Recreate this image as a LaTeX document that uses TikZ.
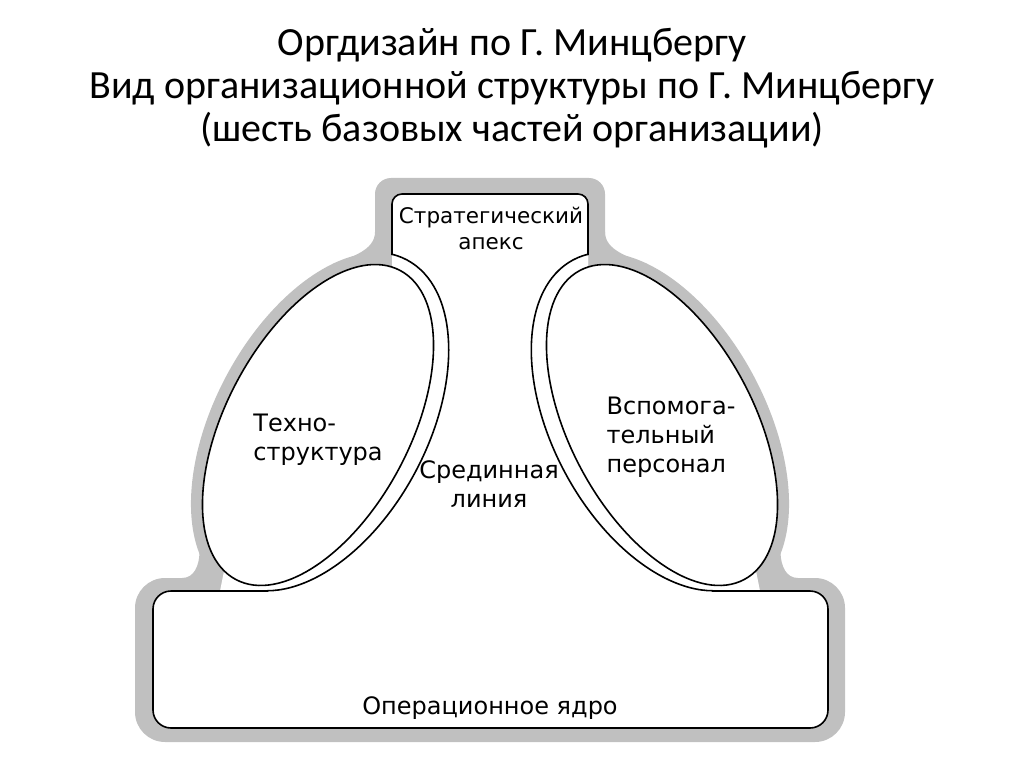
\documentclass[tikz,border=0pt]{standalone}
\usepackage{fontspec}
\setmainfont{Carlito}
\newfontfamily\diagfont{DejaVu Sans}
\definecolor{bandgray}{RGB}{192,192,192}
\tikzset{
  band/.style={fill=bandgray},
  hole/.style={fill=white},
  edge/.style={line width=1.6pt},
  lbl/.style={font=\diagfont\fontsize{24}{29}\selectfont, align=left, inner sep=0pt},
}

\begin{document}
\begin{tikzpicture}[x=1pt,y=-1pt]
    \useasboundingbox (0,0) rectangle (1024,767);
    \node[font=\fontsize{40}{43}\selectfont, align=center] (title) at (512,88)
        {Оргдизайн по Г. Минцбергу\\Вид организационной структуры по Г. Минцбергу\\(шесть базовых частей организации)};

    % gray band
    \fill[band, rounded corners=16] (375,178) rectangle (605,282);
    \fill[band, rounded corners=30] (135,578) rectangle (845,742);
    \fill[band, rotate around={62:(318,425)}] (318,425) ellipse [x radius=187, y radius=104];
    \fill[band, rotate around={-62:(662,425)}] (662,425) ellipse [x radius=187, y radius=104];
    \fill[band] (375,232) .. controls (375,250) and (352,257) .. (332.3,264.1) -- (345,275) -- (376,268) -- cycle;
    \fill[band] (605,232) .. controls (605,250) and (628,257) .. (647.7,264.1) -- (635,275) -- (604,268) -- cycle;
    \fill[band] (182,578) .. controls (194,578) and (199,566) .. (199.5,553) -- (216,578) -- cycle;
    \fill[band] (798,578) .. controls (786,578) and (781,566) .. (780.5,553) -- (764,578) -- cycle;

    % white inside
    \fill[hole, rounded corners=10] (392,194) rectangle (588,282);
    \fill[hole, rounded corners=18] (153,591) rectangle (828,728);
    \fill[hole] (370.5,266) -- (609.5,266) -- (715.9,600) -- (264.1,600) -- cycle;
    \fill[hole] (220,591) -- (224,571) -- (300,571) -- (300,591) -- cycle;
    \fill[hole] (760,591) -- (756,571) -- (680,571) -- (680,591) -- cycle;
    \begin{scope}
        \clip (392,245) -- (490,245) -- (490,600) -- (264.1,600) -- (370.5,266) -- (392,266) -- cycle;
        \fill[hole, rotate around={62:(321,421.5)}] (321,421.5) ellipse [x radius=183, y radius=107];
    \end{scope}
    \begin{scope}
        \clip (588,245) -- (490,245) -- (490,600) -- (715.9,600) -- (609.5,266) -- (588,266) -- cycle;
        \fill[hole, rotate around={-62:(659,421.5)}] (659,421.5) ellipse [x radius=183, y radius=107];
    \end{scope}

    % ellipses
    \filldraw[hole, edge, rotate around={62:(318,425)}] (318,425) ellipse [x radius=175, y radius=92];
    \filldraw[hole, edge, rotate around={-62:(662,425)}] (662,425) ellipse [x radius=175, y radius=92];

    % lines of the middle
    \begin{scope}
        \clip (392,245) -- (490,245) -- (490,600) -- (264.1,600) -- (370.5,266) -- (392,266) -- cycle;
        \draw[edge, rotate around={62:(321,421.5)}] (321,421.5) ellipse [x radius=183, y radius=107];
    \end{scope}
    \begin{scope}
        \clip (588,245) -- (490,245) -- (490,600) -- (715.9,600) -- (609.5,266) -- (588,266) -- cycle;
        \draw[edge, rotate around={-62:(659,421.5)}] (659,421.5) ellipse [x radius=183, y radius=107];
    \end{scope}
    \draw[edge, rounded corners=10] (392,255) -- (392,194) -- (588,194) -- (588,255);
    \draw[edge, rounded corners=18] (268,591) -- (153,591) -- (153,728) -- (828,728) -- (828,591) -- (712,591);

    \node[lbl, font=\diagfont\fontsize{21.5}{26}\selectfont, align=center] (apex) at (491,228) {Стратегический\\апекс};
    \node[lbl] (techno) at (318,440) {Техно-\\структура};
    \node[lbl] (support) at (671,437) {Вспомога-\\тельный\\персонал};
    \node[lbl, align=center] (middle) at (489,484) {Срединная\\линия};
    \node[lbl] (core) at (490,708) {Операционное ядро};
\end{tikzpicture}
\end{document}
